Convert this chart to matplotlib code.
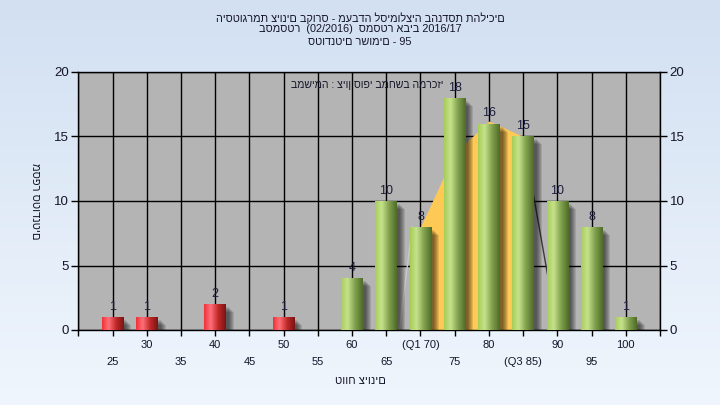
import numpy as np
import matplotlib
matplotlib.use('Agg')
import matplotlib.pyplot as plt
from matplotlib.colors import LinearSegmentedColormap
from matplotlib.patches import Rectangle

plt.rcParams['font.family'] = ['Liberation Sans', 'DejaVu Sans']

# ---------------- data ----------------
grades = [25, 30, 40, 50, 60, 65, 70, 75, 80, 85, 90, 95, 100]
counts = [1, 1, 2, 1, 4, 10, 8, 18, 16, 15, 10, 8, 1]
pass_grade = 55                      # bars below are red
iqr_x = [70, 75, 80, 85]             # yellow area between Q1 and Q3
iqr_y = [8, 13.7, 16.2, 15]
dark_line_x = [85, 90]
dark_line_y = [15, 0]
light_line_x = [66.9, 68.8]
light_line_y = [0, 8]
xtick_vals = list(range(20, 106, 5))
xtick_text = {70: '(Q1 70)', 85: '(Q3 85)', 20: '', 105: ''}
ytick_vals = [0, 5, 10, 15, 20]
title_lines = ['היסטוגרמת ציונים בקורס - מעבדה לסימולציה בהנדסת תהליכים',
               'בסמסטר  (02/2016)  סמסטר אביב 2016/17',
               'סטודנטים רשומים - 95']
inner_text = 'במשימה : ציון סופי במחשב המרכזי'
xlabel_text = 'טווח ציונים'
ylabel_text = 'מספר סטודנטים'

# ---------------- figure ----------------
W, H = 720, 405
fig = plt.figure(figsize=(W / 100, H / 100), dpi=100)
bg = fig.add_axes([0, 0, 1, 1], zorder=-10)
grad = np.linspace(0, 1, 256).reshape(-1, 1)
bg_cmap = LinearSegmentedColormap.from_list('bg', ['#d2e0f2', '#f0f6fd'])
bg.imshow(grad, aspect='auto', cmap=bg_cmap, extent=[0, 1, 0, 1])
bg.set_axis_off()

L, R, T, B = 78.3, 660, 72, 330
ax = fig.add_axes([L / W, 1 - B / H, (R - L) / W, (B - T) / H])
ax.set_facecolor('#b4b4b4')
ax.set_xlim(20, 105)
ax.set_ylim(0, 20)

px_x = 85 / (R - L)
px_y = 20 / (B - T)

# grid
ax.set_xticks(xtick_vals)
ax.set_yticks(ytick_vals)
ax.grid(True, color='black', lw=1.0, zorder=0)
ax.set_axisbelow(True)

# yellow IQR area and lines
ax.fill_between(iqr_x, 0, iqr_y, color='#ffc956', lw=0, zorder=1)
ax.plot(dark_line_x, dark_line_y, color='#3a3a3a', lw=1.0, zorder=1)
ax.plot(light_line_x, light_line_y, color='#c8c8c8', lw=1.0, zorder=1)

green_cmap = LinearSegmentedColormap.from_list(
    'g', [(0, '#a6cc58'), (0.3, '#c6e28c'), (0.65, '#80a04e'), (1, '#4e6a28')])
red_cmap = LinearSegmentedColormap.from_list(
    'r', [(0, '#f03038'), (0.3, '#ff7078'), (0.65, '#c02828'), (1, '#7a1414')])
hgrad = np.linspace(0, 1, 128).reshape(1, -1)

bw = 3.15
for g, c in zip(grades, counts):
    # soft shadow
    for k in range(1, 7):
        dx = (2 + k) * px_x
        dy = (2 + k) * px_y
        ax.add_patch(Rectangle((g - bw / 2 + dx, 0), bw, max(c - dy, 0),
                               facecolor='black', alpha=0.11, lw=0, zorder=2))
    rect = Rectangle((g - bw / 2, 0), bw, c, facecolor='none', lw=0, zorder=3)
    ax.add_patch(rect)
    cmap = red_cmap if g < pass_grade else green_cmap
    im = ax.imshow(hgrad, cmap=cmap, aspect='auto',
                   extent=[g - bw / 2, g + bw / 2, 0, c], zorder=3,
                   interpolation='bilinear')
    im.set_clip_path(rect)
    ax.annotate(str(c), (g, c), xytext=(0, 3), textcoords='offset points',
                ha='center', va='bottom', fontsize=9, color='#1c1c3c', zorder=5)

ax.set_xlim(20, 105)
ax.set_ylim(0, 20)

# ticks
ax.set_xticklabels([xtick_text.get(v, str(v)) for v in xtick_vals])
ax.tick_params(axis='x', direction='out', length=4, width=1, labelsize=8,
               colors='black')
for v, tick in zip(xtick_vals, ax.xaxis.get_major_ticks()):
    tick.set_pad(3 if (v % 10 == 0) else 15.5)
ax.tick_params(axis='y', direction='out', length=5, width=1, labelsize=9.5,
               left=True, right=True, labelleft=True, labelright=True, pad=2)
for lab in ax.get_xticklabels() + ax.get_yticklabels():
    lab.set_color('#15152a')
for sp in ax.spines.values():
    sp.set_color('black')
    sp.set_linewidth(1)

# texts
ys = [18.3, 29.5, 41.7]
for line, y in zip(title_lines, ys):
    fig.text(0.5, 1 - y / H, line, ha='center', va='center', fontsize=7.8,
             color='#15152a')
ax.text(0.497, (B - 85) / (B - T), inner_text, transform=ax.transAxes,
        ha='center', va='center', fontsize=7.6, color='#15152a', zorder=6)
fig.text(360 / W, 1 - 381 / H, xlabel_text, ha='center', va='center',
         fontsize=8, color='#15152a')
fig.text(35 / W, 1 - 201 / H, ylabel_text, ha='center', va='center',
         fontsize=8, color='#15152a', rotation=270)

fig.savefig('out.png', dpi=100)
